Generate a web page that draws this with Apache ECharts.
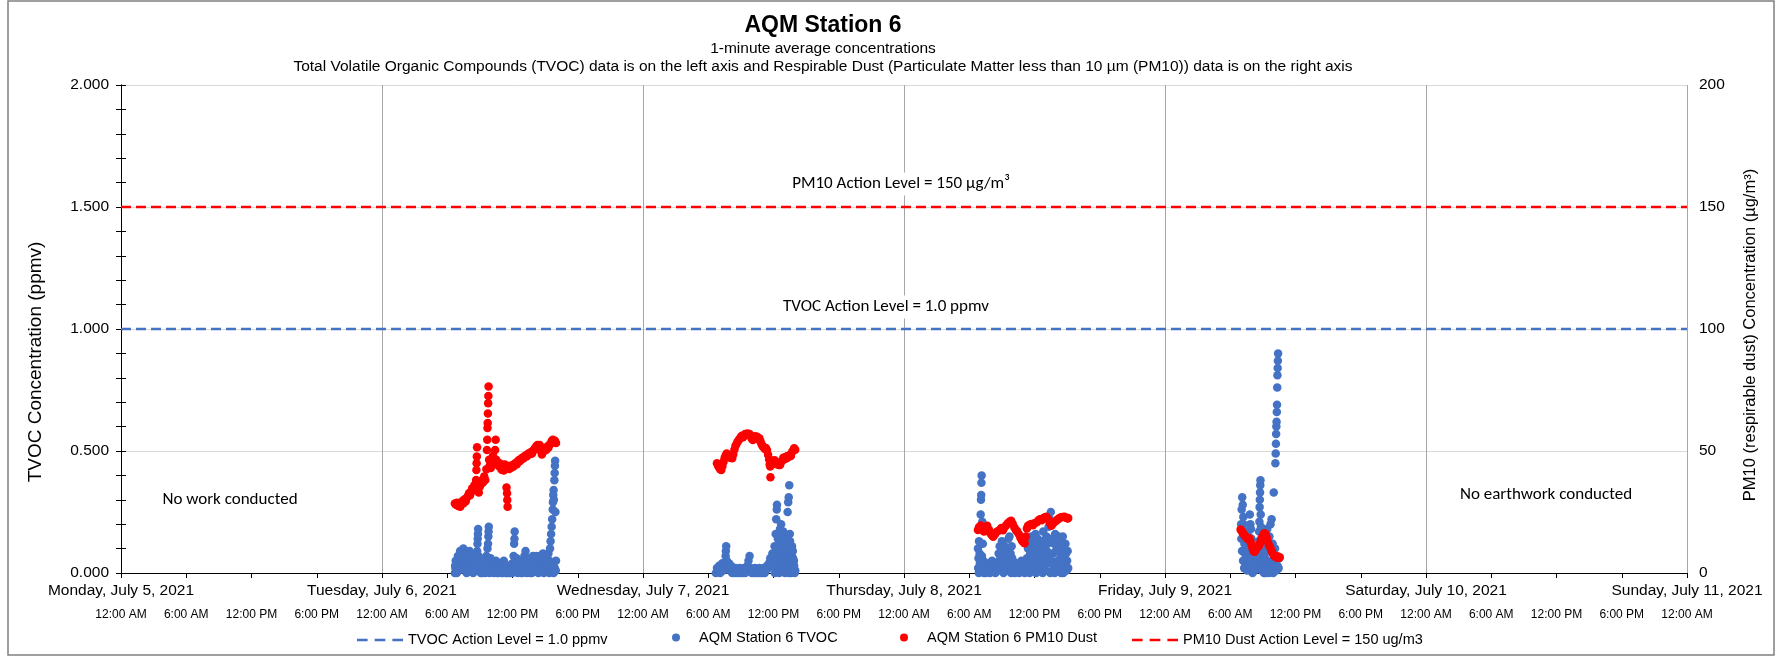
<!DOCTYPE html>
<head>
    <meta charset="utf-8">
    <title>AQM Station 6</title>
    <script src="https://cdn.jsdelivr.net/npm/echarts@6/dist/echarts.min.js"></script>
</head>
<body style="margin:0">
    <div id="main" style="width:1776px;height:656px"></div>
    <script type="text/javascript">
    // x values are hours since Monday, July 5, 2021 12:00 AM
    var dayLabels = ['Monday, July 5, 2021', 'Tuesday, July 6, 2021', 'Wednesday, July 7, 2021',
        'Thursday, July 8, 2021', 'Friday, July 9, 2021', 'Saturday, July 10, 2021', 'Sunday, July 11, 2021'];
    var timeLabels = ['12:00 AM', '6:00 AM', '12:00 PM', '6:00 PM'];

    var tvocActionLevel = 1.0;   // ppmv
    var pm10ActionLevel = 150;   // ug/m3

    // TVOC (ppmv), [hour, value]
    var tvocJul6 = [[30.70,0.00],[30.75,0.02],[30.85,0.01],[30.95,0.04],[31.05,0.02],[31.15,0.06],[31.25,0.03],[31.35,0.08],
        [31.45,0.05],[31.55,0.09],[31.65,0.04],[31.75,0.07],[31.85,0.02],[31.95,0.05],[32.05,0.09],[32.10,0.06],[32.20,0.03],
        [32.30,0.01],[32.40,0.04],[32.50,0.02],[32.60,0.05],[32.75,0.09],[32.78,0.12],[32.80,0.14],[32.82,0.16],[32.84,0.18],
        [32.90,0.04],[33.00,0.01],[33.10,0.03],[33.20,0.00],[33.30,0.02],[33.40,0.05],[33.50,0.03],[33.60,0.07],[33.70,0.10],
        [33.75,0.12],[33.78,0.15],[33.80,0.17],[33.82,0.19],[33.90,0.06],[34.00,0.03],[34.10,0.05],[34.20,0.02],[34.30,0.04],
        [34.40,0.01],[34.50,0.03],[34.60,0.00],[34.70,0.02],[34.80,0.04],[34.90,0.01],[35.00,0.00],[35.10,0.02],[35.20,0.05],
        [35.30,0.01],[35.40,0.00],[35.50,0.02],[35.60,0.01],[35.70,0.03],[35.80,0.00],[35.90,0.02],[36.00,0.04],[36.10,0.07],
        [36.15,0.12],[36.18,0.14],[36.20,0.17],[36.30,0.05],[36.40,0.02],[36.50,0.04],[36.60,0.01],[36.70,0.03],[36.80,0.00],
        [36.90,0.02],[37.00,0.05],[37.10,0.07],[37.20,0.09],[37.30,0.04],[37.40,0.01],[37.50,0.03],[37.60,0.00],[37.70,0.02],
        [37.80,0.05],[37.90,0.03],[38.00,0.06],[38.10,0.02],[38.20,0.04],[38.30,0.01],[38.40,0.05],[38.50,0.07],[38.60,0.03],
        [38.70,0.06],[38.80,0.08],[38.90,0.04],[39.00,0.02],[39.10,0.06],[39.20,0.03],[39.30,0.08],[39.40,0.05],[39.45,0.10],
        [39.50,0.13],[39.55,0.16],[39.60,0.19],[39.65,0.22],[39.70,0.26],[39.72,0.29],[39.75,0.32],[39.78,0.34],[39.80,0.30],
        [39.85,0.38],[39.88,0.41],[39.90,0.44],[39.92,0.46],[39.95,0.25],[40.00,0.05],
        [30.72,0.03],[30.78,0.05],[30.88,0.00],[30.98,0.07],[31.08,0.01],[31.18,0.09],[31.28,0.05],[31.38,0.02],[31.48,0.10],
        [31.58,0.04],[31.68,0.08],[31.78,0.00],[31.88,0.06],[31.98,0.03],[32.08,0.01],[32.18,0.07],[32.28,0.04],[32.38,0.00],
        [32.48,0.06],[32.58,0.03],[32.68,0.01],[32.88,0.07],[32.98,0.03],[33.08,0.00],[33.18,0.05],[33.28,0.01],[33.38,0.03],
        [33.48,0.00],[33.58,0.04],[33.68,0.02],[33.88,0.00],[33.98,0.06],[34.08,0.01],[34.18,0.04],[34.28,0.00],[34.38,0.03],
        [34.48,0.05],[34.58,0.02],[34.68,0.00],[34.78,0.01],[34.88,0.03],[34.98,0.02],[35.08,0.00],[35.18,0.01],[35.28,0.03],
        [35.38,0.02],[35.48,0.00],[35.58,0.03],[35.68,0.00],[35.78,0.02],[35.88,0.01],[35.98,0.00],[36.08,0.02],[36.28,0.03],
        [36.38,0.06],[36.48,0.00],[36.58,0.03],[36.68,0.05],[36.78,0.02],[36.88,0.00],[36.98,0.03],[37.08,0.01],[37.18,0.04],
        [37.28,0.00],[37.38,0.03],[37.48,0.06],[37.58,0.02],[37.68,0.04],[37.78,0.00],[37.88,0.07],[37.98,0.01],[38.08,0.04],
        [38.18,0.07],[38.28,0.03],[38.38,0.00],[38.48,0.04],[38.58,0.06],[38.68,0.01],[38.78,0.04],[38.88,0.00],[38.98,0.05],
        [39.08,0.01],[39.18,0.07],[39.28,0.02],[39.38,0.00],[39.48,0.04],[39.58,0.01],[39.68,0.03],[39.78,0.00],[39.88,0.02],
        [39.98,0.01]];
    var tvocJul7 = [[54.70,0.00],[54.80,0.02],[54.90,0.01],[55.00,0.03],[55.10,0.00],[55.20,0.02],[55.30,0.04],[55.40,0.01],
        [55.50,0.03],[55.60,0.07],[55.62,0.09],[55.65,0.11],[55.70,0.05],[55.80,0.02],[55.90,0.04],[56.00,0.01],[56.10,0.03],
        [56.20,0.00],[56.30,0.01],[56.40,0.00],[56.50,0.02],[56.60,0.00],[56.70,0.01],[56.80,0.00],[56.90,0.02],[57.00,0.00],
        [57.10,0.01],[57.20,0.00],[57.30,0.02],[57.40,0.00],[57.50,0.01],[57.60,0.03],[57.70,0.05],[57.80,0.07],[57.90,0.02],
        [58.00,0.00],[58.10,0.01],[58.20,0.00],[58.30,0.02],[58.40,0.00],[58.50,0.01],[58.60,0.00],[58.70,0.02],[58.80,0.00],
        [58.90,0.01],[59.00,0.00],[59.10,0.02],[59.20,0.00],[59.30,0.01],[59.40,0.03],[59.50,0.02],[59.60,0.04],[59.70,0.06],
        [59.80,0.03],[59.90,0.08],[60.00,0.05],[60.10,0.11],[60.15,0.02],[60.20,0.16],[60.25,0.22],[60.30,0.26],[60.32,0.28],
        [60.40,0.14],[60.45,0.03],[60.50,0.09],[60.60,0.18],[60.70,0.20],[60.75,0.15],[60.80,0.12],[60.85,0.05],[60.90,0.17],
        [61.00,0.14],[61.10,0.10],[61.15,0.04],[61.20,0.13],[61.30,0.25],[61.35,0.29],[61.40,0.31],[61.45,0.36],[61.50,0.16],
        [61.55,0.02],[61.60,0.08],[61.70,0.11],[61.75,0.04],[61.80,0.06],[61.90,0.03],[62.00,0.01],
        [60.05,0.07],[60.12,0.00],[60.22,0.04],[60.35,0.10],[60.42,0.06],[60.52,0.00],[60.55,0.12],[60.62,0.07],[60.65,0.03],
        [60.72,0.10],[60.78,0.01],[60.88,0.09],[60.95,0.02],[61.02,0.07],[61.05,0.00],[61.12,0.06],[61.18,0.09],[61.25,0.01],
        [61.28,0.12],[61.38,0.05],[61.42,0.00],[61.48,0.10],[61.52,0.13],[61.58,0.05],[61.62,0.00],[61.68,0.07],[61.72,0.01],
        [61.78,0.09],[61.82,0.02],[61.88,0.05],[61.95,0.00]];
    var tvocJul8 = [[78.80,0.10],[78.85,0.06],[78.90,0.13],[78.95,0.08],[79.00,0.19],[79.05,0.24],[79.08,0.30],[79.10,0.32],
        [79.12,0.37],[79.14,0.40],[79.20,0.21],[79.25,0.12],[79.30,0.05],[79.40,0.02],[79.50,0.00],[79.60,0.03],[79.70,0.01],
        [79.80,0.04],[79.90,0.00],[80.00,0.02],[80.10,0.05],[80.20,0.01],[80.30,0.03],[80.40,0.00],[80.50,0.02],[80.60,0.04],
        [80.70,0.08],[80.80,0.11],[80.90,0.06],[81.00,0.13],[81.10,0.09],[81.20,0.04],[81.30,0.07],[81.40,0.02],[81.50,0.10],
        [81.60,0.14],[81.70,0.15],[81.80,0.08],[81.90,0.11],[82.00,0.05],[82.10,0.02],[82.20,0.00],[82.30,0.03],[82.40,0.01],
        [82.50,0.04],[82.60,0.00],[82.70,0.02],[82.80,0.05],[82.90,0.01],[83.00,0.03],[83.10,0.00],[83.20,0.02],[83.30,0.06],
        [83.40,0.10],[83.50,0.13],[83.60,0.08],[83.65,0.02],[83.70,0.15],[83.80,0.11],[83.90,0.05],[84.00,0.12],[84.10,0.16],
        [84.20,0.09],[84.25,0.01],[84.30,0.14],[84.40,0.06],[84.50,0.11],[84.60,0.02],[84.70,0.13],[84.80,0.17],[84.85,0.03],
        [84.90,0.10],[85.00,0.07],[85.10,0.15],[85.20,0.12],[85.30,0.19],[85.40,0.22],[85.45,0.00],[85.50,0.25],[85.60,0.14],
        [85.70,0.08],[85.80,0.12],[85.90,0.16],[86.00,0.04],[86.05,0.01],[86.10,0.11],[86.20,0.15],[86.30,0.09],[86.40,0.13],
        [86.50,0.06],[86.60,0.15],[86.65,0.00],[86.70,0.10],[86.80,0.03],[86.90,0.08],[87.00,0.05],[87.10,0.02],
        [78.82,0.02],[78.88,0.00],[78.98,0.04],[79.02,0.01],[79.16,0.07],[79.22,0.03],[79.35,0.00],[80.65,0.01],[80.75,0.05],
        [80.85,0.02],[80.95,0.09],[81.05,0.04],[81.15,0.00],[81.25,0.11],[81.35,0.03],[81.45,0.06],[81.55,0.01],[81.65,0.08],
        [81.75,0.03],[81.85,0.00],[81.95,0.06],[83.35,0.01],[83.45,0.04],[83.55,0.00],[83.75,0.06],[83.85,0.02],[83.95,0.09],
        [84.05,0.04],[84.15,0.00],[84.35,0.07],[84.45,0.02],[84.55,0.08],[84.65,0.05],[84.75,0.00],[84.95,0.04],[85.05,0.01],
        [85.15,0.09],[85.25,0.04],[85.35,0.07],[85.55,0.05],[85.65,0.01],[85.75,0.04],[85.85,0.00],[85.95,0.09],[86.15,0.05],
        [86.25,0.02],[86.35,0.06],[86.45,0.00],[86.55,0.10],[86.75,0.05],[86.85,0.12],[86.95,0.01],[87.05,0.09]];
    var tvocJul9 = [[103.00,0.20],[103.05,0.26],[103.10,0.31],[103.15,0.28],[103.20,0.23],[103.25,0.16],[103.30,0.12],
        [103.35,0.08],[103.40,0.04],[103.50,0.11],[103.60,0.06],[103.70,0.15],[103.80,0.24],[103.85,0.20],[103.90,0.18],
        [104.00,0.09],[104.10,0.03],[104.20,0.07],[104.30,0.12],[104.40,0.05],[104.50,0.02],[104.60,0.10],[104.65,0.17],
        [104.68,0.21],[104.70,0.27],[104.72,0.30],[104.74,0.33],[104.76,0.36],[104.78,0.38],[104.80,0.24],[104.85,0.14],
        [104.90,0.01],[105.00,0.04],[105.10,0.00],[105.20,0.06],[105.30,0.13],[105.40,0.18],[105.50,0.09],[105.60,0.15],
        [105.70,0.20],[105.80,0.22],[105.90,0.12],[106.00,0.33],[106.10,0.05],[106.15,0.45],[106.18,0.49],[106.20,0.53],
        [106.22,0.57],[106.24,0.60],[106.26,0.62],[106.28,0.66],[106.30,0.69],[106.32,0.76],[106.34,0.81],[106.36,0.84],
        [106.38,0.87],[106.40,0.90],[106.45,0.02],[106.50,0.06],
        [103.02,0.14],[103.08,0.09],[103.12,0.18],[103.18,0.05],[103.22,0.20],[103.28,0.02],[103.45,0.17],[103.55,0.01],
        [103.65,0.09],[103.75,0.03],[103.82,0.12],[103.88,0.06],[103.95,0.14],[104.05,0.00],[104.15,0.10],[104.25,0.01],
        [104.35,0.04],[104.45,0.09],[104.55,0.06],[104.62,0.13],[104.82,0.19],[104.88,0.07],[104.95,0.11],[105.05,0.02],
        [105.15,0.08],[105.25,0.00],[105.35,0.05],[105.45,0.02],[105.55,0.00],[105.65,0.04],[105.75,0.01],[105.85,0.05],
        [105.95,0.00],[106.05,0.02],[106.12,0.10],[106.25,0.01],[106.35,0.03]];

    // PM10 dust (ug/m3), [hour, value]
    var pm10Jul6 = [[30.70,28.5],[30.80,28.0],[30.90,28.8],[31.00,27.5],[31.10,28.2],[31.20,27.2],[31.30,28.9],[31.40,29.5],
        [31.50,28.6],[31.60,30.2],[31.70,29.4],[31.80,30.8],[31.90,31.5],[32.00,32.7],[32.10,31.9],[32.20,33.6],[32.30,34.7],
        [32.40,33.8],[32.50,36.0],[32.60,35.2],[32.65,38.1],[32.68,42.2],[32.70,45.0],[32.72,47.7],[32.74,51.5],[32.80,37.5],
        [32.90,33.0],[33.00,35.5],[33.10,36.4],[33.20,38.0],[33.30,37.2],[33.40,39.6],[33.50,38.1],[33.60,42.5],[33.65,50.4],
        [33.68,54.6],[33.70,59.4],[33.72,61.5],[33.74,65.4],[33.76,69.6],[33.78,72.5],[33.80,76.4],[33.85,46.4],[33.90,44.0],
        [34.00,43.0],[34.10,45.5],[34.20,48.0],[34.30,46.0],[34.40,50.4],[34.45,54.6],[34.50,46.4],[34.60,44.5],[34.70,45.2],
        [34.80,43.5],[34.90,44.8],[35.00,42.3],[35.10,43.8],[35.20,42.0],[35.30,44.5],[35.40,43.6],[35.45,35.0],[35.50,32.7],
        [35.52,29.9],[35.55,27.2],[35.60,43.0],[35.70,42.6],[35.80,44.0],[35.90,43.2],[36.00,44.2],[36.10,43.6],[36.20,44.8],
        [36.30,45.1],[36.40,44.6],[36.50,45.8],[36.60,46.3],[36.70,45.9],[36.80,46.8],[36.90,47.2],[37.00,46.9],[37.10,47.7],
        [37.20,48.2],[37.30,47.7],[37.40,48.6],[37.50,49.1],[37.60,48.7],[37.70,49.6],[37.80,49.0],[37.90,50.1],[38.00,50.8],
        [38.10,51.2],[38.20,52.0],[38.30,52.5],[38.40,51.8],[38.50,52.5],[38.60,50.0],[38.70,48.6],[38.80,49.5],[38.90,50.2],
        [39.00,51.0],[39.10,50.4],[39.20,51.8],[39.30,51.3],[39.40,52.6],[39.50,53.0],[39.60,54.0],[39.70,54.6],[39.80,53.8],
        [39.90,54.2],[40.00,53.3]];
    var pm10Jul7 = [[54.80,45.0],[54.90,44.0],[55.00,43.2],[55.10,42.5],[55.20,42.2],[55.30,43.8],[55.40,45.5],[55.50,47.0],
        [55.60,48.2],[55.70,49.0],[55.80,48.5],[55.90,47.6],[56.00,47.2],[56.10,47.8],[56.20,47.0],[56.30,48.6],[56.40,50.5],
        [56.50,52.0],[56.60,53.0],[56.70,53.8],[56.80,54.5],[56.90,55.0],[57.00,55.8],[57.10,56.2],[57.20,55.6],[57.30,56.5],
        [57.40,57.0],[57.50,56.6],[57.60,57.2],[57.70,56.8],[57.80,57.0],[57.90,56.2],[58.00,55.0],[58.10,54.5],[58.20,55.6],
        [58.30,56.0],[58.40,55.4],[58.50,55.8],[58.60,54.8],[58.70,55.2],[58.80,54.0],[58.90,52.8],[59.00,52.0],[59.10,51.5],
        [59.20,50.8],[59.30,51.2],[59.40,50.4],[59.50,48.5],[59.60,46.5],[59.65,44.5],[59.70,43.6],[59.72,39.2],[59.80,45.0],
        [59.90,46.0],[60.00,45.5],[60.10,46.2],[60.20,45.0],[60.30,44.6],[60.40,45.2],[60.50,44.3],[60.60,44.3],[60.70,45.5],
        [60.80,46.0],[60.90,47.2],[61.00,46.6],[61.10,47.5],[61.20,47.0],[61.30,48.0],[61.40,47.6],[61.50,48.4],[61.60,48.0],
        [61.70,49.5],[61.80,50.2],[61.90,51.1],[62.00,50.5]];
    var pm10Jul8 = [[78.80,17.6],[78.90,18.8],[79.05,19.5],[79.20,18.2],[79.35,17.0],[79.50,18.6],[79.65,19.4],[79.80,17.8],
        [79.95,16.2],[80.10,15.4],[80.20,14.9],[80.35,15.8],[80.50,16.8],[80.65,17.2],[80.80,17.6],[80.95,18.4],[81.10,17.5],
        [81.25,18.8],[81.40,19.6],[81.55,20.4],[81.70,21.0],[81.85,21.4],[82.00,20.2],[82.15,18.6],[82.30,17.5],[82.40,17.1],
        [82.55,16.0],[82.70,14.5],[82.85,13.2],[83.00,12.5],[83.10,12.2],[83.20,15.0],[83.30,18.2],[83.40,19.4],[83.55,19.8],
        [83.70,20.1],[83.85,19.6],[84.00,20.4],[84.20,20.8],[84.35,21.5],[84.50,22.0],[84.65,21.6],[84.80,22.4],[84.95,22.8],
        [85.10,23.1],[85.25,22.0],[85.40,20.6],[85.55,19.4],[85.70,20.2],[85.85,21.0],[86.00,21.4],[86.15,22.0],[86.30,22.5],
        [86.45,22.8],[86.60,23.0],[86.75,23.1],[86.90,22.6],[87.05,22.3],[87.10,22.5]];
    var pm10Jul9 = [[102.95,17.8],[103.05,17.2],[103.15,16.5],[103.25,15.8],[103.35,15.2],[103.45,14.8],[103.55,14.2],
        [103.65,13.8],[103.75,14.2],[103.85,13.0],[103.95,11.5],[104.05,10.0],[104.15,8.9],[104.25,8.7],[104.35,9.5],
        [104.45,10.2],[104.55,10.8],[104.65,11.2],[104.75,12.4],[104.85,13.8],[104.95,14.9],[105.05,15.8],[105.15,16.3],
        [105.25,16.0],[105.35,14.5],[105.45,12.8],[105.55,11.4],[105.65,10.8],[105.75,9.6],[105.85,8.5],[105.95,7.6],
        [106.05,7.0],[106.15,6.7],[106.25,6.4],[106.35,6.9],[106.45,6.2],[106.55,6.5]];

    var FONT = 'Liberation Sans, Arial, sans-serif';
    var BLUE = '#4472C4';
    var RED = '#FF0000';
    // three short dashes, used as the legend icon of the action level lines
    var DASH_ICON = 'path://M0,0h12v3h-12z M20,0h12v3h-12z M40,0h12v3h-12z';

    var myChart = echarts.init(document.getElementById('main'));

    function legendAt(name, left, width, height, icon) {
        var item = icon ? {name: name, icon: icon} : {name: name};
        return {
            data: [item], left: left, top: 634 - height / 2 - 5, orient: 'horizontal',
            itemWidth: width, itemHeight: height, itemGap: 0,
            textStyle: {fontFamily: FONT, fontSize: 14.5, color: '#000'}
        };
    }

    function note(text, x, y, size, rot) {
        return {
            type: 'text', x: x, y: y, z: 10, rotation: rot || 0,
            style: {
                text: text, align: 'center', verticalAlign: 'middle',
                font: size ? size + 'px ' + FONT : '17px Carlito, Lato, sans-serif', fill: '#000',
                backgroundColor: size ? null : '#fff', padding: size ? 0 : [3, 6]
            }
        };
    }

    myChart.setOption({
        animation: false,
        backgroundColor: '#fff',
        title: {
            text: 'AQM Station 6',
            subtext: '1-minute average concentrations\nTotal Volatile Organic Compounds (TVOC) data is on the left axis and Respirable Dust (Particulate Matter less than 10 µm (PM10)) data is on the right axis',
            left: 818, top: 8, textAlign: 'center', itemGap: 1,
            textStyle: {fontFamily: FONT, fontSize: 23, fontWeight: 'bold', color: '#000', lineHeight: 26},
            subtextStyle: {fontFamily: FONT, fontSize: 15.5, color: '#000', lineHeight: 18}
        },
        grid: {left: 121, right: 89, top: 85, bottom: 83, outerBoundsMode: 'none'},
        legend: [
            legendAt('TVOC Action Level = 1.0 ppmv', 352, 46, 3, DASH_ICON),
            legendAt('AQM Station 6 TVOC', 667, 36, 8),
            legendAt('AQM Station 6 PM10 Dust', 895, 36, 8),
            legendAt('PM10 Dust Action Level = 150 ug/m3', 1127, 46, 3, DASH_ICON)
        ],
        xAxis: [{
            type: 'value', min: 0, max: 144, interval: 24,
            axisLine: {show: true, onZero: false, lineStyle: {color: '#000', width: 1}},
            axisTick: {show: true, length: 5, lineStyle: {color: '#000'}},
            minorTick: {show: true, splitNumber: 4, length: 5, lineStyle: {color: '#000'}},
            splitLine: {show: true, lineStyle: {color: '#a6a6a6', width: 1}},
            minorSplitLine: {show: false},
            axisLabel: {
                margin: 10, fontFamily: FONT, fontSize: 15.5, color: '#000',
                showMinLabel: true, showMaxLabel: true,
                formatter: function (v) { return dayLabels[Math.round(v / 24)]; }
            }
        }, {
            type: 'value', min: 0, max: 144, interval: 6, position: 'bottom',
            axisLine: {show: false}, axisTick: {show: false}, splitLine: {show: false},
            axisLabel: {
                margin: 36, fontFamily: FONT, fontSize: 12, color: '#000',
                showMinLabel: true, showMaxLabel: true,
                formatter: function (v) { return timeLabels[Math.round(v / 6) % 4]; }
            }
        }],
        yAxis: [{
            type: 'value', min: 0, max: 2, interval: 0.5,
            axisLine: {show: true, lineStyle: {color: '#000'}},
            axisTick: {show: true, length: 5, lineStyle: {color: '#000'}},
            minorTick: {show: true, splitNumber: 5, length: 5, lineStyle: {color: '#000'}},
            splitLine: {show: true, lineStyle: {color: '#d9d9d9', width: 1}},
            axisLabel: {
                margin: 12, fontFamily: FONT, fontSize: 15.5, color: '#000',
                formatter: function (v) { return v.toFixed(3); }
            }
        }, {
            type: 'value', min: 0, max: 200, interval: 50, position: 'right',
            axisLine: {show: true, lineStyle: {color: '#000'}},
            axisTick: {show: true, length: 5, lineStyle: {color: '#000'}},
            minorTick: {show: true, splitNumber: 5, length: 5, lineStyle: {color: '#000'}},
            splitLine: {show: false},
            axisLabel: {margin: 12, fontFamily: FONT, fontSize: 15.5, color: '#000'}
        }],
        series: [{
            name: 'TVOC Action Level = 1.0 ppmv', type: 'line', xAxisIndex: 0, yAxisIndex: 0,
            data: [[0, tvocActionLevel], [144, tvocActionLevel]],
            symbol: 'none', itemStyle: {color: BLUE},
            lineStyle: {color: BLUE, width: 2.5, type: [10, 5]}
        }, {
            name: 'AQM Station 6 TVOC', type: 'scatter', xAxisIndex: 0, yAxisIndex: 0,
            data: [].concat(tvocJul6, tvocJul7, tvocJul8, tvocJul9),
            symbol: 'circle', symbolSize: 8.5, itemStyle: {color: BLUE, opacity: 1}
        }, {
            name: 'AQM Station 6 PM10 Dust', type: 'scatter', xAxisIndex: 0, yAxisIndex: 1,
            data: [].concat(pm10Jul6, pm10Jul7, pm10Jul8, pm10Jul9),
            symbol: 'circle', symbolSize: 8.5, itemStyle: {color: RED, opacity: 1}
        }, {
            name: 'PM10 Dust Action Level = 150 ug/m3', type: 'line', xAxisIndex: 0, yAxisIndex: 1,
            data: [[0, pm10ActionLevel], [144, pm10ActionLevel]],
            symbol: 'none', itemStyle: {color: RED},
            lineStyle: {color: RED, width: 2.5, type: [10, 5]}
        }],
        graphic: [
            {type: 'rect', z: 100, shape: {x: 8, y: 1, width: 1766, height: 654},
             style: {fill: null, stroke: '#808080', lineWidth: 1.5}},
            note('TVOC Concentration (ppmv)', 36, 362, 19, Math.PI / 2),
            note('PM10 (respirable dust) Concentration (µg/m³)', 1750, 335, 16.5, Math.PI / 2),
            note('PM10 Action Level = 150 µg/m³', 901, 184),
            note('TVOC Action Level = 1.0 ppmv', 886, 307),
            note('No work conducted', 230, 500),
            note('No earthwork conducted', 1546, 495)
        ]
    });
    </script>
</body>
